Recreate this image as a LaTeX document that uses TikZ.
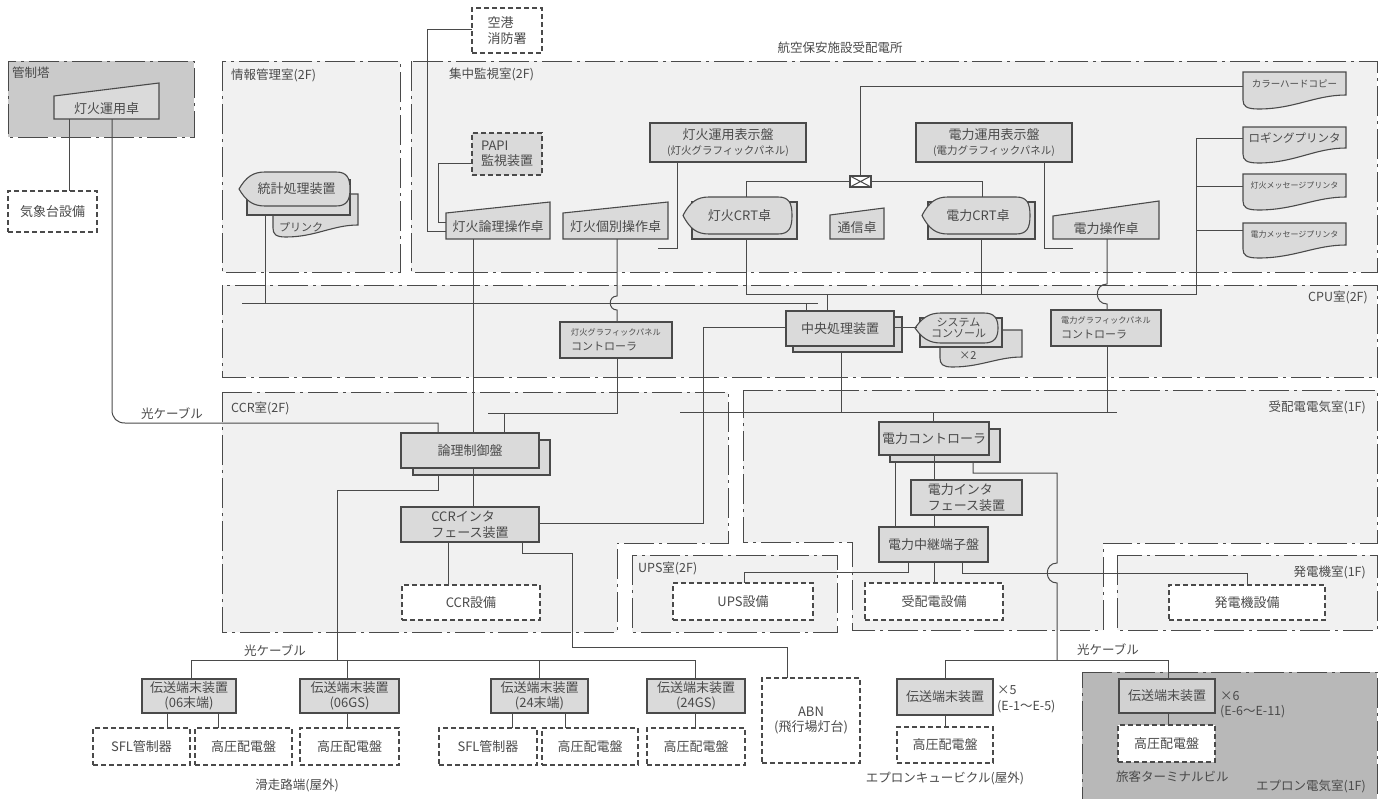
\documentclass[tikz,border=0pt]{standalone}
\usepackage{fontspec}
\setmainfont{Noto Sans CJK JP}
\usetikzlibrary{calc}
\definecolor{linec}{HTML}{4A4A4A}
\definecolor{txtc}{HTML}{4A4A4A}
\definecolor{roomfill}{HTML}{F1F1F1}
\definecolor{towerfill}{HTML}{CACACA}
\definecolor{apronfill}{HTML}{B8B8B8}
\definecolor{eqfill}{HTML}{DADADA}
\definecolor{termfill}{HTML}{D2D2D2}
\newcommand\fsz[2]{\fontsize{#1pt}{#2pt}\selectfont}

\tikzset{
  room/.style={draw=linec, fill=roomfill, line width=0.9pt, dash pattern=on 30pt off 5pt on 3pt off 5pt},
  ln/.style={draw=linec, line width=1pt},
  shp/.style={draw=linec, fill=eqfill, line width=1.1pt},
  eq/.style={shp, inner sep=0pt, outer sep=0pt, text=txtc, font=\fsz{13}{15.5}, align=center},
  dsh/.style={eq, fill=white, dash pattern=on 5pt off 3pt},
  lbl/.style={inner sep=0pt, text=txtc, font=\fsz{12.5}{15}},
  ghost/.style={inner sep=0pt, outer sep=0pt, text=txtc},
}

% rectangular unit: name, x1, y1, x2, y2, text
\newcommand\eqbox[7][]{\node[eq,minimum width={(#5-#3)*1pt},minimum height={(#6-#4)*1pt},#1] (#2) at ({(#3+#5)/2},{(#4+#6)/2}) {#7};}
% operator desk with sloped top: name, x1, x2, ybottom, ytopleft, ytopright, text
\newcommand\desk[7]{%
  \draw[shp] (#2,#4) -- (#2,#5) -- (#3,#6) -- (#3,#4) -- cycle;
  \node[ghost,minimum width={(#3-#2)*1pt},minimum height={(#4-#6)*1pt}] (#1) at ({(#2+#3)/2},{(#4+#6)/2}) {};
  \node[lbl,font=\fsz{13}{15}] (#1-t) at ({(#2+#3)/2},{(#4+#5)/2+1}) {#7};}
% display unit (pointed left, rounded right): [font], name, xL, xR, ytop, ybot, text
\newcommand\crt[7][]{%
  \draw[shp] (#3,{(#5+#6)/2}) .. controls ({#3+7},{#5+5}) and ({#3+14},#5) .. ({#3+26},#5) -- ({#4-14},#5) .. controls ({#4-3},#5) and (#4,{#5+6}) .. (#4,{(#5+#6)/2}) .. controls (#4,{#6-6}) and ({#4-3},#6) .. ({#4-14},#6) -- ({#3+26},#6) .. controls ({#3+14},#6) and ({#3+7},{#6-5}) .. cycle;
  \node[ghost,align=center,font=\fsz{13}{15},minimum width={(#4-#3)*1pt},minimum height={(#6-#5)*1pt},#1] (#2) at ({(#3+#4)/2+2},{(#5+#6)/2}) {#7};}
% printed output: name, x1, x2, ytop, ybottom-left, ybottom-right, font size, text
\newcommand\doc[8]{%
  \draw[shp] (#2,#4) -- (#3,#4) -- (#3,#6) .. controls ({#3-0.3*(#3-#2)},#6) and ({#2+0.5*(#3-#2)},#5) .. ({#2+0.15*(#3-#2)},#5) .. controls ({#2+0.03*(#3-#2)},#5) and (#2,{#5-3}) .. (#2,{#5-9}) -- cycle;
  \node[ghost,font=\fsz{#7}{#7},minimum width={(#3-#2)*1pt},minimum height={(#6-#4)*1pt}] (#1) at ({(#2+#3)/2},{(#4+#6)/2}) {#8};}

\begin{document}
\begin{tikzpicture}[x=1pt,y=-1pt]
\useasboundingbox (0,0) rectangle (1384,798);
\fill[white] (0,0) rectangle (1384,798);

% ---------- rooms ----------
\path[room,fill=towerfill] (8,61) rectangle (194,137);
\path[room] (222,61) rectangle (400,272);
\path[room] (411,61) rectangle (1377,272);
\path[room] (222,285) rectangle (1377,377);
\path[room] (222,392) -- (728,392) -- (728,543) -- (617,543) -- (617,632) -- (222,632) -- cycle;
\path[room] (743,390) -- (1377,390) -- (1377,543) -- (1103,543) -- (1103,630) -- (852,630) -- (852,542) -- (743,542) -- cycle;
\path[room] (632,555) rectangle (837,632);
\path[room] (1117,555) rectangle (1377,630);
\path[room,fill=apronfill] (1082,672) -- (1377,672) -- (1377,815) -- (1082,815) -- cycle;

\node[lbl,anchor=west] (r-tower) at (12,73) {管制塔};
\node[lbl,anchor=west] (r-info) at (231,75) {情報管理室(2F)};
\node[lbl,anchor=west] (r-mon) at (449,74) {集中監視室(2F)};
\node[lbl] (r-site) at (840,48) {航空保安施設受配電所};
\node[lbl,anchor=east] (r-cpu) at (1368,297) {CPU室(2F)};
\node[lbl,anchor=west] (r-ccr) at (231,408) {CCR室(2F)};
\node[lbl,anchor=east] (r-pwr) at (1366,407) {受配電電気室(1F)};
\node[lbl,anchor=west] (r-ups) at (638,568) {UPS室(2F)};
\node[lbl,anchor=east] (r-gen) at (1366,572) {発電機室(1F)};
\node[lbl,anchor=east] (r-apron) at (1366,786) {エプロン電気室(1F)};
\node[lbl,anchor=west] (r-term) at (1116,777) {旅客ターミナルビル};
\node[lbl] (c-opt1) at (172,414) {光ケーブル};
\node[lbl] (c-opt2) at (275,651) {光ケーブル};
\node[lbl] (c-opt3) at (1108,650) {光ケーブル};
\node[lbl] (r-rwy) at (297,785) {滑走路端(屋外)};
\node[lbl] (r-cub) at (945,778) {エプロンキュービクル(屋外)};
\node[lbl,anchor=west] (n-x5) at (997,690) {×5};
\node[lbl,anchor=west] (n-e15) at (997,707) {(E-1～E-5)};
\node[lbl,anchor=west] (n-x6) at (1220,696) {×6};
\node[lbl,anchor=west] (n-e611) at (1220,712) {(E-6～E-11)};

% ---------- units ----------
\desk{opd}{54}{159}{119}{96}{83}{灯火運用卓}
\eqbox[dsh]{met}{8}{191}{97}{232}{気象台設備}
\eqbox[dsh,align=left]{fire}{472}{8}{542}{53}{空港\\消防署}
\eqbox[dsh,fill=eqfill,align=left]{papi}{472}{133}{542}{175}{PAPI\\監視装置}
\desk{lgc}{446}{550}{239}{213}{202}{灯火論理操作卓}
\desk{ind}{563}{668}{239}{213}{202}{灯火個別操作卓}
\desk{com}{830}{884}{239}{215}{208}{通信卓}
\desk{pwd}{1053}{1159}{239}{216}{201}{電力操作卓}
\eqbox{lpan}{650}{123}{806}{162}{灯火運用表示盤\\{\fsz{10.5}{13}(灯火グラフィックパネル)}}
\eqbox{ppan}{916}{123}{1072}{162}{電力運用表示盤\\{\fsz{10.5}{13}(電力グラフィックパネル)}}
\eqbox{lcrtb}{692}{202}{797}{239}{}
\crt{lcrt}{683}{792}{197}{234}{灯火CRT卓}
\eqbox{pcrtb}{928}{202}{1035}{239}{}
\crt{pcrt}{922}{1030}{197}{234}{電力CRT卓}
\node[shp,fill=white,minimum width=21pt,minimum height=11pt,inner sep=0pt,outer sep=0pt] (fan) at (860.5,181.5) {};
\draw[ln] (fan.north west) -- (fan.south east) (fan.north east) -- (fan.south west);
\doc{hc}{1243}{1346}{72}{109}{95}{9.5}{カラーハードコピー}
\doc{log}{1243}{1346}{127}{163}{148}{11.5}{ロギングプリンタ}
\doc{lmp}{1243}{1346}{174}{210}{197}{8}{灯火メッセージプリンタ}
\doc{pmp}{1243}{1346}{223}{258}{245}{8}{電力メッセージプリンタ}

% statistics unit with its printer
\doc{prn}{273}{358}{194}{237}{225}{11}{}
\node[lbl,font=\fsz{11}{11}] (prn-t) at (301,227) {プリンク};
\eqbox{stb}{247}{180}{350}{215}{}
\crt{stat}{239}{350}{172}{206}{統計処理装置}

% CPU room
\eqbox[align=left]{lgpc}{560}{322}{672}{358}{{\fsz{8.2}{12}灯火グラフィックパネル}\\{\fsz{11}{13}コントローラ}}
\eqbox[align=left]{pgpc}{1051}{310}{1161}{346}{{\fsz{8.2}{12}電力グラフィックパネル}\\{\fsz{11}{13}コントローラ}}
\eqbox{cpub}{793}{317}{902}{352}{}
\eqbox{cpu}{786}{311}{894}{346}{中央処理装置}
\doc{sysd}{940}{1022}{330}{367}{357}{11}{}
\node[lbl,font=\fsz{11}{11}] (sys-n) at (968,356) {×2};
\eqbox{sysb}{920}{318}{1002}{347}{}
\crt[font=\fsz{11}{11}]{sys}{915}{998}{313}{343}{システム\\コンソール}

% CCR room
\eqbox{logicb}{413}{440}{550}{475}{}
\eqbox{logic}{401}{433}{539}{468}{論理制御盤}
\eqbox[align=left]{ccrif}{401}{507}{539}{542}{CCRインタ\\フェース装置}
\eqbox[dsh]{ccreq}{402}{585}{540}{620}{CCR設備}

% power rooms
\eqbox{pctlb}{890}{429}{1000}{462}{}
\eqbox{pctl}{879}{422}{989}{455}{電力コントローラ}
\eqbox[align=left]{pif}{911}{480}{1022}{515}{電力インタ\\フェース装置}
\eqbox{relay}{879}{527}{988}{562}{電力中継端子盤}
\eqbox[dsh]{rcv}{865}{583}{1003}{620}{受配電設備}
\eqbox[dsh]{ups}{673}{583}{813}{620}{UPS設備}
\eqbox[dsh]{gen}{1169}{585}{1325}{620}{発電機設備}

% field units
\eqbox{t06}{142}{679}{236}{713}{伝送端末装置\\(06末端)}
\eqbox{t06gs}{300}{679}{399}{713}{伝送端末装置\\(06GS)}
\eqbox{t24}{491}{679}{588}{713}{伝送端末装置\\(24末端)}
\eqbox{t24gs}{647}{679}{745}{713}{伝送端末装置\\(24GS)}
\eqbox[dsh]{sfl06}{93}{728}{190}{765}{SFL管制器}
\eqbox[dsh]{hv06}{195}{728}{292}{765}{高圧配電盤}
\eqbox[dsh]{hv06gs}{300}{728}{399}{765}{高圧配電盤}
\eqbox[dsh]{sfl24}{439}{728}{537}{765}{SFL管制器}
\eqbox[dsh]{hv24}{542}{728}{638}{765}{高圧配電盤}
\eqbox[dsh]{hv24gs}{647}{728}{745}{765}{高圧配電盤}
\eqbox[dsh]{abn}{762}{678}{860}{763}{ABN\\(飛行場灯台)}
\eqbox{te5}{897}{679}{993}{715}{伝送端末装置}
\eqbox[dsh]{hve5}{897}{727}{993}{763}{高圧配電盤}
\eqbox[fill=termfill]{te6}{1119}{679}{1215}{713}{伝送端末装置}
\eqbox[dsh]{hve6}{1118}{725}{1215}{762}{高圧配電盤}

% ---------- connectors ----------
\draw[ln] (opd.south -| 69,0) -- (met.north -| 69,0);
\draw[ln] (opd.south -| 112,0) -- (112,410) .. controls (112,418) and (117,423) .. (125,423) -- (438,423) -- (logic.north -| 438,0);
\draw[ln] (fire.west |- 0,29) -- (427,29) -- (427,231) -- (lgc.west |- 0,231);
\draw[ln] (papi.west |- 0,163) -- (438,163) -- (438,222) -- (lgc.west |- 0,222);
\draw[ln] (lgc.south -| 473,0) -- (logic.north -| 473,0);
\draw[ln] (ind.south -| 617,0) -- (617,296) .. controls (608,296) and (608,310) .. (617,310) -- (lgpc.north -| 617,0);
\draw[ln] (lpan.south -| 677,0) |- (658,248);
\draw[ln] (ppan.south -| 1044,0) |- (1073,248);
\draw[ln] (fan.north) |- (hc.west |- 0,86);
\draw[ln] (fan.west) -| (lcrt.north -| 746,0);
\draw[ln] (fan.east) -| (pcrt.north -| 982,0);
\draw[ln] (lcrtb.south -| 746,0) -- (746,294) -- (1196,294) -- (1196,138) -- (log.west |- 0,138);
\draw[ln] (1196,186) -- (lmp.west |- 0,186);
\draw[ln] (1196,230) -- (pmp.west |- 0,230);
\draw[ln] (pcrtb.south -| 981,0) -- (981,294);
\draw[ln] (827,294) -- (cpu.north -| 827,0);
\draw[ln] (pwd.south -| 1107,0) -- (1107,284) .. controls (1094,284) and (1094,304) .. (1107,304) -- (pgpc.north -| 1107,0);
\draw[ln] (stb.south -| 265,0) -- (265,303);
\draw[ln] (242,303) -- (818,303);
\draw[ln] (806,303) -- (cpu.north -| 806,0);
\draw[ln] (lgpc.south -| 617,0) -- (617,413) -- (488,413);
\draw[ln] (504,413) -- (logic.north -| 504,0);
\draw[ln] (cpub.south -| 841,0) -- (841,412);
\draw[ln] (680,412) -- (1117,412);
\draw[ln] (pgpc.south -| 1107,0) -- (1107,412);
\draw[ln] (933,412) -- (pctl.north -| 933,0);
\draw[ln] (logicb.south -| 438,0) -- (438,490) -- (337,490) -- (337,660);
\draw[ln] (logic.south -| 473,0) -- (ccrif.north -| 473,0);
\draw[ln] (ccrif.south -| 448,0) -- (ccreq.north -| 448,0);
\draw[ln] (ccrif.south -| 522,0) -- (522,553) -- (572,553) -- (572,647) -- (787,647) -- (abn.north -| 787,0);
\draw[ln] (ccrif.east |- 0,523) -- (703,523) -- (703,327) -- (cpu.west |- 0,327);
\draw[ln] (cpu.east |- 0,327) -- (sys.west |- 0,327);
\draw[ln] (pctl.south -| 934,0) -- (pif.north -| 934,0);
\draw[ln] (pif.south -| 934,0) -- (relay.north -| 934,0);
\draw[ln] (pctlb.south -| 895,0) -- (relay.north -| 895,0);
\draw[ln] (pctlb.south -| 973,0) -- (973,473) -- (1057,473) -- (1057,563) .. controls (1044,563) and (1044,583) .. (1057,583) -- (1057,660);
\draw[ln] (te5.north -| 945,0) -- (945,660) -- (1168,660) -- (te6.north -| 1168,0);
\draw[ln] (relay.south -| 908,0) -- (908,572) -- (744,572) -- (ups.north -| 744,0);
\draw[ln] (relay.south -| 934,0) -- (rcv.north -| 934,0);
\draw[ln] (relay.south -| 962,0) -- (962,573) -- (1247,573) -- (gen.north -| 1247,0);
\draw[ln] (t06.north -| 191,0) -- (191,660) -- (695,660) -- (t24gs.north -| 695,0);
\draw[ln] (347,660) -- (t06gs.north -| 347,0);
\draw[ln] (539,660) -- (t24.north -| 539,0);
\draw[ln] (t06.south -| 167,0) -- (sfl06.north -| 167,0);
\draw[ln] (t06.south -| 218,0) -- (hv06.north -| 218,0);
\draw[ln] (t06gs.south -| 347,0) -- (hv06gs.north -| 347,0);
\draw[ln] (t24.south -| 512,0) -- (sfl24.north -| 512,0);
\draw[ln] (t24.south -| 565,0) -- (hv24.north -| 565,0);
\draw[ln] (t24gs.south -| 695,0) -- (hv24gs.north -| 695,0);
\draw[ln] (te5.south -| 945,0) -- (hve5.north -| 945,0);
\draw[ln] (te6.south -| 1168,0) -- (hve6.north -| 1168,0);
\end{tikzpicture}
\end{document}
